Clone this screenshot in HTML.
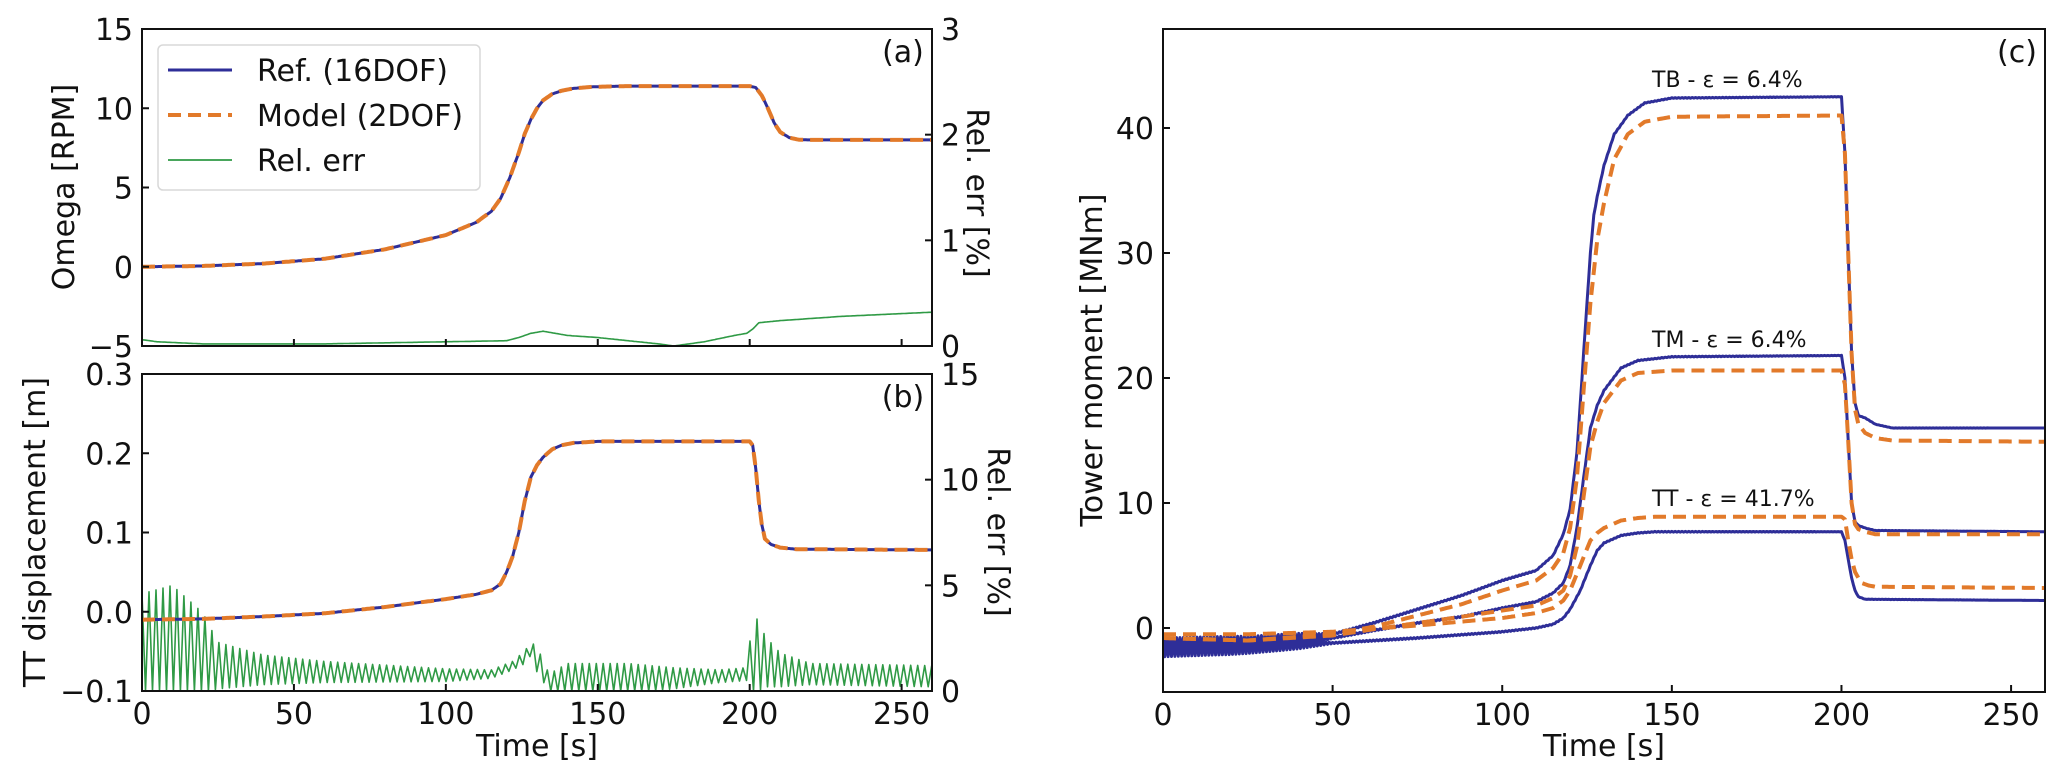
<!DOCTYPE html>
<html><head><meta charset="utf-8">
<style>
html,body{margin:0;padding:0;background:#fff;}
svg{display:block;font-family:"DejaVu Sans","Liberation Sans",sans-serif;}
</style></head>
<body>
<svg id="fig" width="2067" height="784" viewBox="0 0 2067 784" xmlns="http://www.w3.org/2000/svg">
  <g id="g-a"></g>
  <g id="g-b"></g>
  <g id="g-c"></g>
</svg>
<script>
// ---------- data ----------
const xTicksA = [0,50,100,150,200,250];
const yTicksA = [-5,0,5,10,15];
const yTicksAR = [0,1,2,3];
const yTicksB = [-0.1,0.0,0.1,0.2,0.3];
const yTicksBLabels = ["\u22120.1","0.0","0.1","0.2","0.3"];
const yTicksBR = [0,5,10,15];
const yTicksC = [0,10,20,30,40];

const omegaT = [0,20,40,60,80,100,110,115,118,121,124,126,128,130,132,135,138,142,148,160,200,202,204,206,208,210,213,216,220,260];
const omegaV = [0,0.05,0.2,0.5,1.1,2.0,2.8,3.5,4.3,5.6,7.2,8.4,9.3,10.0,10.5,10.9,11.1,11.25,11.35,11.4,11.4,11.3,10.8,10.0,9.1,8.5,8.15,8.02,8.0,8.0];
const errAT = [0,5,20,60,100,120,124,128,132,136,140,150,160,170,175,185,195,199,201,203,210,230,260];
const errAV = [0.06,0.04,0.02,0.02,0.04,0.05,0.08,0.12,0.14,0.12,0.1,0.08,0.05,0.02,0.0,0.04,0.1,0.12,0.16,0.22,0.24,0.28,0.32];

const ttT = [0,20,40,60,80,100,110,115,118,120,122,124,126,128,130,132,135,138,142,150,200,201,202,203,204,205,207,210,215,260];
const ttV = [-0.01,-0.009,-0.006,-0.002,0.006,0.016,0.022,0.027,0.035,0.05,0.07,0.1,0.14,0.17,0.185,0.195,0.205,0.21,0.213,0.215,0.215,0.21,0.18,0.14,0.11,0.092,0.085,0.081,0.079,0.078];
const errBT = [0,10,20,25,40,60,100,115,122,126,128,130,134,140,160,175,190,199,201,203,205,210,220,260];
const errBMid = [2.3,2.4,1.8,1.2,1.0,0.9,0.75,0.8,1.2,1.6,2.0,1.5,0.4,0.6,0.6,0.6,0.7,0.8,1.7,1.7,1.4,1.0,0.8,0.7];
const errBAmp = [2.3,2.6,1.9,1.1,0.7,0.5,0.3,0.2,0.2,0.3,0.3,0.6,0.4,0.7,0.7,0.5,0.3,0.3,1.7,1.7,1.2,0.8,0.5,0.5];

const tbRefT = [0,25,50,62,75,88,100,110,115,118,120,122,124,126,127,128,130,133,137,142,150,200,201,202,203,204,205,207,210,215,260];
const tbRefV = [-1.5,-1.2,-0.5,0.4,1.5,2.6,3.8,4.6,5.8,7.5,9.5,14,22,30,33,34.5,37,39.5,41,42,42.4,42.5,38,30,22,18,17,16.8,16.3,16,16];
const tbModT = [0,25,50,62,75,88,100,110,115,118,120,122,124,126,128,130,133,137,142,150,200,201,202,203,204,205,207,210,215,260];
const tbModV = [-0.8,-1,-0.5,0.1,1.0,1.9,3.0,3.8,4.8,6.0,8,12,19,26,31,34,37.5,39.5,40.5,40.9,41,38,30,22,17.5,16.3,15.6,15.2,15,14.9];
const tmRefT = [0,25,50,62,75,88,100,110,115,118,120,122,124,126,128,130,135,140,150,200,201,202,203,204,205,207,210,260];
const tmRefV = [-1.5,-1.3,-0.8,-0.2,0.4,0.9,1.6,2.1,2.8,3.6,5,8,12,16,17.8,19,20.8,21.4,21.7,21.8,20,15,10,8.5,8.2,8,7.8,7.7];
const tmModT = [0,25,50,62,75,88,100,110,115,118,120,122,124,126,128,130,135,140,150,200,201,202,203,204,205,207,210,260];
const tmModV = [-0.8,-1.0,-0.6,-0.1,0.4,0.9,1.4,1.8,2.4,3.0,4.2,6.5,10.5,14.5,16.5,18,19.8,20.4,20.6,20.6,19.5,15,10,8.3,7.9,7.7,7.5,7.5];
const ttRefT = [0,25,50,75,100,110,115,118,120,123,126,128,130,135,140,145,200,201,202,203,204,205,207,260];
const ttRefV = [-1.6,-1.5,-1.2,-0.8,-0.3,0,0.3,0.8,1.5,3,5,6.2,6.8,7.4,7.6,7.7,7.7,7.0,5.5,4,3,2.5,2.3,2.2];
const ttModT = [0,25,50,75,100,110,115,118,120,123,126,128,130,135,140,145,200,201,202,203,204,205,206,208,210,260];
const ttModV = [-0.5,-0.5,-0.3,0.2,0.8,1.2,1.6,2.2,3,5,7,7.6,8,8.6,8.8,8.9,8.9,8.7,7,5.5,4.5,4,3.6,3.4,3.3,3.2];
const noiseC_T = [0,20,40,50,260];
const noiseC_A = [0.7,0.6,0.35,0.05,0];

// ---------- helpers ----------
const NS = "http://www.w3.org/2000/svg";
const FS = 30;
function mk(tag, attrs, parent){ const e=document.createElementNS(NS,tag); for(const k in attrs) e.setAttribute(k,attrs[k]); parent.appendChild(e); return e; }
function interp(T,V,t){ if(t<=T[0]) return V[0]; for(let i=1;i<T.length;i++){ if(t<=T[i]){ const f=(t-T[i-1])/(T[i]-T[i-1]); return V[i-1]+f*(V[i]-V[i-1]); } } return V[V.length-1]; }
function lin(d0,d1,r0,r1){ return v=>r0+(v-d0)/(d1-d0)*(r1-r0); }
function pathFrom(T,V,xs,ys,dt){ let d=""; for(let t=T[0];t<=T[T.length-1]+1e-9;t+=dt){ d+=(d?"L":"M")+xs(t).toFixed(1)+","+ys(interp(T,V,t)).toFixed(1);} return d; }
function zigzag(T,Mid,AmpT,Amp,xs,ys,period,floor){ let d="",s=1; for(let t=0;t<=260;t+=period/2){ let v=interp(T,Mid,t)+s*interp(AmpT,Amp,t); if(floor!==undefined&&v<floor)v=floor; d+=(d?"L":"M")+xs(t).toFixed(1)+","+ys(v).toFixed(1); s=-s;} return d; }
function noisy(T,V,xs,ys,k){ let d="",s=1; for(let t=0;t<=260;t+=0.5){ const v=interp(T,V,t)+s*k*interp(noiseC_T,noiseC_A,t); d+=(d?"L":"M")+xs(t).toFixed(1)+","+ys(v).toFixed(1); s=-s;} return d; }
const BLUE="#2e2e98", ORANGE="#e27a2a", GREEN="#2f9a45";

function frame(g,L,T,R,B){
  const f=mk("rect",{x:L,y:T,width:R-L,height:B-T,fill:"none",stroke:"#111","stroke-width":2},g);
  
  
}
function xTicks(g,xs,B,show){
  xTicksA.forEach(v=>{ const x=xs(v);
    const l=mk("line",{x1:x,x2:x,y1:B,y2:B-7,stroke:"#111","stroke-width":2},g);
    
    
    if(show){ const t=mk("text",{x:x,y:B+33,"font-size":FS,"text-anchor":"middle",fill:"#111"},g); t.textContent=v;
      
       }
  });
}
function yTicks(g,ticks,labels,ys,L,side){
  ticks.forEach((v,i)=>{ const y=ys(v);
    const l=mk("line",{x1:L,x2:side==="left"?L+7:L-7,y1:y,y2:y,stroke:"#111","stroke-width":2},g);
    
    
    const t=mk("text",{x:side==="left"?L-9:L+9,y:y+11,"font-size":FS,"text-anchor":side==="left"?"end":"start",fill:"#111"},g);
    t.textContent=labels?labels[i]:(v<0?"\u2212"+(-v):v);
    
    
  });
}
function label(g,txt,x,y,rot,size,name){
  const t=mk("text",{x:x,y:y,"font-size":size,"text-anchor":"middle",fill:"#111",transform:rot?`rotate(${rot} ${x} ${y})`:""},g);
  t.textContent=txt;
  
  
  return t;
}
function line(g,d,color,w,dash,name){
  const p=mk("path",{d:d,fill:"none",stroke:color,"stroke-width":w,"stroke-linejoin":"round"},g);
  if(dash) p.setAttribute("stroke-dasharray",dash);
  
  
  return p;
}

// ---------- panel (a) ----------
(function(){
  const g=document.getElementById("g-a");
  const L=142,T=29,R=932,B=346;
  const xs=lin(0,260,L,R), ys=lin(-5,15,B,T), yr=lin(0,3,B,T);
  const cp=mk("clipPath",{id:"clipA"},g); mk("rect",{x:L,y:T,width:R-L,height:B-T},cp);
  const pg=mk("g",{"clip-path":"url(#clipA)"},g);
  line(pg,pathFrom(errAT,errAV,xs,yr,0.5),GREEN,1.6,null,"rel-err-line-a");
  line(pg,pathFrom(omegaT,omegaV,xs,ys,0.5),BLUE,3,null,"ref-16dof-line-a");
  line(pg,pathFrom(omegaT,omegaV,xs,ys,0.5),ORANGE,4,"13,7","model-2dof-line-a");
  frame(g,L,T,R,B);
  xTicks(g,xs,B,false);
  yTicks(g,yTicksA,null,ys,L,"left");
  yTicks(g,yTicksAR,null,yr,R,"right");
  label(g,"Omega [RPM]",74,187,-90,FS,"y-axis-title-omega");
  label(g,"Rel. err [%]",967,193,90,FS,"y-axis-title-rel-err-a");
  label(g,"(a)",903,62,0,FS,"panel-label-a");
  const lg=mk("g",{},g);  
  mk("rect",{x:158,y:45,width:322,height:145,rx:5,fill:"#fff","fill-opacity":0.85,stroke:"#d8d8d8","stroke-width":1.5},lg);
  const ent=[["Ref. (16DOF)",BLUE,3,null],["Model (2DOF)",ORANGE,4,"13,7"],["Rel. err",GREEN,1.8,null]];
  ent.forEach((e,i)=>{ const y=70+i*45;
    const eg=mk("g",{},lg);  
    const l=mk("line",{x1:168,x2:232,y1:y,y2:y,stroke:e[1],"stroke-width":e[2]},eg); if(e[3]) l.setAttribute("stroke-dasharray",e[3]);
    const t=mk("text",{x:257,y:y+11,"font-size":FS,fill:"#111"},eg); t.textContent=e[0];
  });
})();

// ---------- panel (b) ----------
(function(){
  const g=document.getElementById("g-b");
  const L=142,T=374,R=932,B=691;
  const xs=lin(0,260,L,R), ys=lin(-0.1,0.3,B,T), yr=lin(0,15,B,T);
  const cp=mk("clipPath",{id:"clipB"},g); mk("rect",{x:L,y:T,width:R-L,height:B-T},cp);
  const pg=mk("g",{"clip-path":"url(#clipB)"},g);
  line(pg,zigzag(errBT,errBMid,errBT,errBAmp,xs,yr,2.3,0),GREEN,1.6,null,"rel-err-line-b");
  line(pg,pathFrom(ttT,ttV,xs,ys,0.5),BLUE,3,null,"ref-16dof-line-b");
  line(pg,pathFrom(ttT,ttV,xs,ys,0.5),ORANGE,4,"13,7","model-2dof-line-b");
  frame(g,L,T,R,B);
  xTicks(g,xs,B,true);
  yTicks(g,yTicksB,yTicksBLabels,ys,L,"left");
  yTicks(g,yTicksBR,null,yr,R,"right");
  label(g,"TT displacement [m]",45,532,-90,FS,"y-axis-title-tt-displacement");
  label(g,"Rel. err [%]",988,532,90,FS,"y-axis-title-rel-err-b");
  label(g,"(b)",903,407,0,FS,"panel-label-b");
  label(g,"Time [s]",537,756,0,FS,"x-axis-title-b");
})();

// ---------- panel (c) ----------
(function(){
  const g=document.getElementById("g-c");
  const L=1163,T=29,R=2045,B=692;
  const xs=lin(0,260,L,R), ys=lin(0,10,628,503);
  const cp=mk("clipPath",{id:"clipC"},g); mk("rect",{x:L,y:T,width:R-L,height:B-T},cp);
  const pg=mk("g",{"clip-path":"url(#clipC)"},g);
  const series=[[tbRefT,tbRefV,tbModT,tbModV,"tb"],[tmRefT,tmRefV,tmModT,tmModV,"tm"],[ttRefT,ttRefV,ttModT,ttModV,"tt"]];
  series.forEach(s=>{
    line(pg,noisy(s[0],s[1],xs,ys,1),BLUE,3,null,"ref-16dof-line-"+s[4]);
  });
  series.forEach(s=>{
    line(pg,pathFrom(s[2],s[3],xs,ys,0.5),ORANGE,4,"13,7","model-2dof-line-"+s[4]);
  });
  frame(g,L,T,R,B);
  xTicksA.forEach(v=>{ const x=xs(v);
    const l=mk("line",{x1:x,x2:x,y1:B,y2:B-7,stroke:"#111","stroke-width":2},g);
    
    
    const t=mk("text",{x:x,y:B+33,"font-size":FS,"text-anchor":"middle",fill:"#111"},g); t.textContent=v;
    
    
  });
  yTicks(g,yTicksC,null,ys,L,"left");
  label(g,"Tower moment [MNm]",1102,360,-90,FS,"y-axis-title-tower-moment");
  label(g,"Time [s]",1604,756,0,FS,"x-axis-title-c");
  label(g,"(c)",2017,62,0,FS,"panel-label-c");
  const ann=[["TB - \u03b5 = 6.4%",87,"annotation-tb"],["TM - \u03b5 = 6.4%",347,"annotation-tm"],["TT - \u03b5 = 41.7%",506,"annotation-tt"]];
  ann.forEach(a=>{ const t=mk("text",{x:1652,y:a[1],"font-size":22,fill:"#111"},g); t.textContent=a[0];
    
     });
})();
</script>
</body></html>
